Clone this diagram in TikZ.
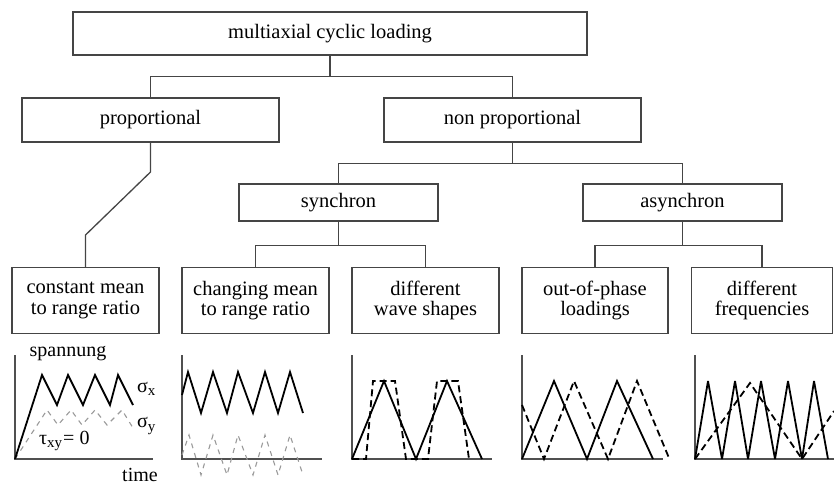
\documentclass[tikz,border=0pt]{standalone}
\usepackage{fontspec}
\setmainfont{Liberation Serif}
\newfontfamily\tms{Liberation Serif}
\definecolor{boxc}{HTML}{454545}
\definecolor{axc}{HTML}{505050}
\definecolor{lgray}{HTML}{9A9A9A}
\begin{document}
\begin{tikzpicture}[x=1pt,y=-1pt,
  box/.style={draw=boxc, line width=1.3pt, inner sep=0pt, align=center,
    font=\tms\fontsize{20.5}{20.5}\selectfont},
  conn/.style={draw=boxc, line width=1.3pt},
  axisl/.style={draw=axc, line width=1.3pt},
  wave/.style={draw=black, line width=1.8pt, line join=miter, miter limit=4},
  dwave/.style={wave, dash pattern=on 7pt off 4pt},
  gwave/.style={draw=lgray, line width=1.1pt, dash pattern=on 5pt off 5pt},
  lbl/.style={inner sep=0pt, font=\tms\fontsize{20}{20}\selectfont}]
\useasboundingbox (0,0) rectangle (834,484);

% boxes
\node[box, minimum width=514pt, minimum height=43pt] (top) at (330,33.5) {multiaxial cyclic loading};
\node[box, minimum width=257pt, minimum height=44pt] (prop) at (150.5,120) {proportional};
\node[box, minimum width=257pt, minimum height=44pt] (nonprop) at (512.5,120) {non proportional};
\node[box, minimum width=199pt, minimum height=37pt] (sync) at (338.5,202.5) {synchron};
\node[box, minimum width=199pt, minimum height=37pt] (async) at (682.5,202.5) {asynchron};
\node[box, minimum width=147pt, minimum height=66pt] (const) at (85.5,300.5) {constant mean\\to range ratio};
\node[box, minimum width=147pt, minimum height=66pt] (chg) at (255.5,300.5) {changing mean\\to range ratio};
\node[box, minimum width=147pt, minimum height=66pt] (wave) at (425.5,300.5) {different\\wave shapes};
\node[box, minimum width=146pt, minimum height=66pt] (phase) at (595,300.5) {out-of-phase\\loadings};
\node[box, minimum width=141pt, minimum height=66pt] (freq) at (762,300.5) {different\\frequencies};

% connectors
\draw[conn] (top.south) -- ++(0,21) coordinate (j1);
\draw[conn] (prop.north) |- (j1) -| (nonprop.north);
\coordinate (k0) at (150.5,172);
\coordinate (k1) at (85.5,235);
\draw[conn] (prop.south) -- (k0) -- (k1) -- (const.north);
\draw[conn] (nonprop.south) -- ++(0,21) coordinate (j2);
\draw[conn] (sync.north) |- (j2) -| (async.north);
\draw[conn] (sync.south) -- ++(0,24) coordinate (j3);
\draw[conn] (chg.north) |- (j3) -| (wave.north);
\draw[conn] (async.south) -- ++(0,24) coordinate (j4);
\draw[conn] (phase.north) |- (j4) -| (freq.north);

% panel 1
\draw[axisl] (15,355) -- (15,459) -- (153,459);
\draw[gwave] (15,459) -- (47,410) -- (58,425) -- (71,410) -- (82,425) -- (95,410) -- (107,425) -- (122,410) -- (133,428);
\draw[wave] (15,459) -- (42,375) -- (57,405) -- (68,375) -- (83,405) -- (95,375) -- (110,405) -- (118,375) -- (133,405);
\node[lbl, anchor=base] (sp) at (68,356) {spannung};
\node[lbl, anchor=base] (tm) at (140,481) {time};
\node[lbl, anchor=west] (sx) at (137,389) {σ\raisebox{-0.35ex}{\fontsize{15}{15}\selectfont x}};
\node[lbl, anchor=west] (sy) at (137,426) {σ\raisebox{-0.35ex}{\fontsize{15}{15}\selectfont y}};
\node[lbl, anchor=west] (tau) at (39,441) {τ\raisebox{-0.35ex}{\fontsize{15}{15}\selectfont xy}\kern1pt= 0};

% panel 2
\draw[axisl] (182,355) -- (182,459) -- (322,459);
\draw[gwave] (182,455) -- (189,435) -- (201,475) -- (213,435) -- (227,475) -- (238,435) -- (253,475) -- (265,435) -- (278,475) -- (290,435) -- (303,475);
\draw[wave] (182,395) -- (188,372) -- (201,413) -- (213,372) -- (227,413) -- (238,372) -- (253,413) -- (265,372) -- (278,413) -- (290,372) -- (303,413);

% panel 3
\draw[axisl] (352,355) -- (352,459) -- (492,459);
\draw[dwave] (352,459) -- (366,459) -- (373,381) -- (395,381) -- (406,459) -- (428,459) -- (437,381) -- (458,381) -- (469,459);
\draw[wave] (352,459) -- (384,381) -- (416,459) -- (447,381) -- (482,459);

% panel 4
\draw[axisl] (522,355) -- (522,459) -- (663,459);
\draw[wave] (522,459) -- (554,381) -- (587,459) -- (617,381) -- (653,459);
\draw[dwave] (522,405) -- (544,459) -- (574,381) -- (608,459) -- (637,381) -- (669,458);

% panel 5
\draw[axisl] (695,355) -- (695,459) -- (834,459);
\draw[wave] (695,459) -- (708,381) -- (722,459) -- (735,381) -- (748,459) -- (761,381) -- (775,459) -- (788,381) -- (802,459) -- (814,381) -- (828,459);
\draw[dwave] (695,459) -- (750,383) -- (802,459) -- (834,411);
\end{tikzpicture}
\end{document}
